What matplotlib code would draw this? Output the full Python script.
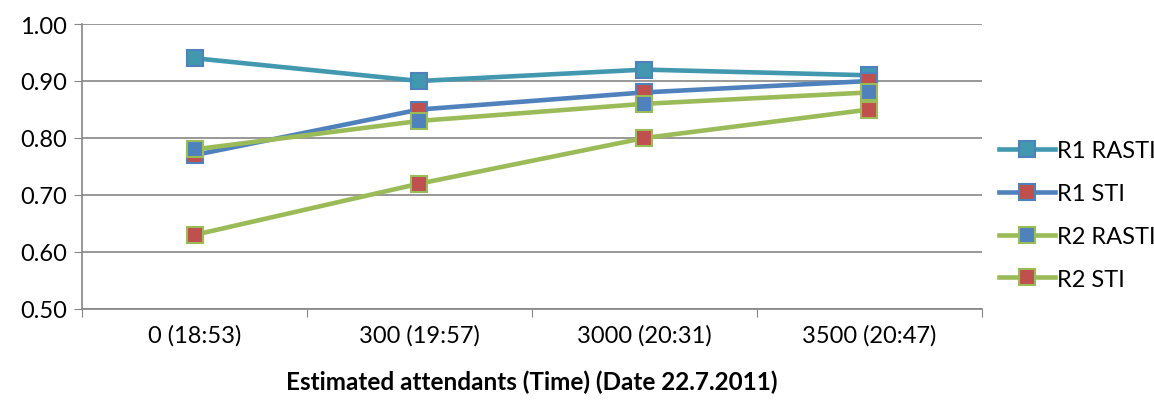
import matplotlib
matplotlib.use('Agg')
import matplotlib.pyplot as plt

# data
categories = ['0 (18:53)', '300 (19:57)', '3000 (20:31)', '3500 (20:47)']
r1_rasti = [0.94, 0.90, 0.92, 0.91]
r1_sti = [0.77, 0.85, 0.88, 0.90]
r2_rasti = [0.78, 0.83, 0.86, 0.88]
r2_sti = [0.63, 0.72, 0.80, 0.85]
yticks = [0.50, 0.60, 0.70, 0.80, 0.90, 1.00]

teal = '#4198AF'
blue = '#4F81BD'
red = '#C0504D'
green = '#9BBB59'
grid_c = '#868686'

plt.rcParams['font.family'] = ['Lato', 'DejaVu Sans']

fig = plt.figure(figsize=(11.54, 4.10), dpi=100)
ax = fig.add_axes([82 / 1154, 1 - 310 / 410, 900 / 1154, 285 / 410])

x = [i + 0.5 for i in range(len(categories))]

# series: (values, line colour, marker face, marker edge, label)
series = [
    (r1_rasti, teal, teal, blue, 'R1 RASTI'),
    (r1_sti, blue, red, blue, 'R1 STI'),
    (r2_rasti, green, blue, green, 'R2 RASTI'),
    (r2_sti, green, red, green, 'R2 STI'),
]
for vals, lc, mf, me, lab in series:
    ax.plot(x, vals, color=lc, lw=3.3, marker='s', markersize=11.5,
            markerfacecolor=mf, markeredgecolor=me, markeredgewidth=1.5,
            label=lab, zorder=3)

ax.set_xlim(0, len(categories))
ax.set_ylim(0.5, 1.0)
ax.set_yticks(yticks)
ax.set_yticklabels(['%.2f' % v for v in yticks])
ax.set_xticks(range(len(categories) + 1))
ax.set_xticklabels([])
ax.set_xticks(x, minor=True)
ax.set_xticklabels(categories, minor=True)
ax.tick_params(axis='x', which='minor', length=0, labelsize=17, pad=11)
ax.tick_params(axis='x', which='major', length=6, color=grid_c, direction='out')
ax.tick_params(axis='y', length=6, color=grid_c, labelsize=17, pad=5)

ax.grid(axis='y', color=grid_c, lw=1.2, zorder=0)
for s in ['top', 'right']:
    ax.spines[s].set_visible(False)
for s in ['left', 'bottom']:
    ax.spines[s].set_color(grid_c)
    ax.spines[s].set_linewidth(1.2)

ax.set_xlabel('Estimated attendants (Time) (Date 22.7.2011)', fontsize=17.5,
              fontweight='bold', labelpad=17)

fig.legend(loc='upper left', bbox_to_anchor=(990 / 1154, 1 - 132 / 410),
           frameon=False, fontsize=17, handlelength=2.35, handletextpad=0.1,
           labelspacing=0.92, borderaxespad=0)

fig.savefig('out.png', dpi=100)
